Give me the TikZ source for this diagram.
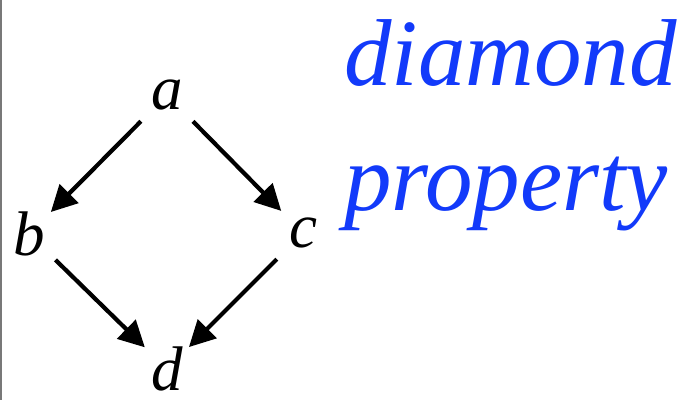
\documentclass[tikz,border=0pt]{standalone}
\usepackage{fontspec}
\setmainfont{Liberation Serif}
\usetikzlibrary{arrows.meta}
\definecolor{propblue}{RGB}{18,58,250}
\definecolor{edgegray}{RGB}{120,120,120}
\begin{document}
\begin{tikzpicture}[x=1pt,y=-1pt,
  vert/.style={font=\fontsize{63}{63}\selectfont\itshape, inner sep=0pt},
  edge/.style={line width=4.2pt, -{Triangle[length=26pt,width=26pt]}, shorten <=37pt, shorten >=31pt},
  label/.style={font=\fontsize{95}{95}\selectfont\itshape, text=propblue, inner sep=0pt, anchor=base west}]
\useasboundingbox (0,0) rectangle (696,400);
\fill[white] (0,0) rectangle (696,400);
\draw[edgegray, line width=2pt] (1,0) -- (1,400);
\node[vert] (a) at (167,95) {a};
\node[vert] (b) at (29,234) {b};
\node[vert] (c) at (303,233) {c};
\node[vert] (d) at (167,369) {d};
\draw[edge] (a.center) -- (b.center);
\draw[edge] (a.center) -- (c.center);
\draw[edge] (b.center) -- (d.center);
\draw[edge] (c.center) -- (d.center);
\node[label] (t1) at (344,85) {diamond};
\node[label] (t2) at (344,210) {property};
\end{tikzpicture}
\end{document}
